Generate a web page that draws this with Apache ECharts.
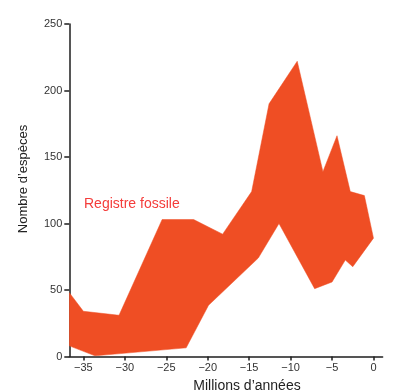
<!DOCTYPE html>
<html>
<head>
<meta charset="utf-8">
<script src="https://cdn.jsdelivr.net/npm/echarts@6/dist/echarts.min.js"></script>
<style>
  html, body { margin: 0; padding: 0; background: #fff; }
  #chart { width: 395px; height: 392px; }
</style>
</head>
<body>
<div id="chart"></div>
<script>
// Upper edge of the fossil-record band (millions of years, species count)
const upperYears = [-36.7, -35.0, -30.7, -25.5, -21.7, -18.2, -14.7, -12.6, -9.2, -6.1, -4.4, -2.8, -1.1, 0];
const upperCounts = [48, 34, 31, 103, 103, 92, 124, 190, 222, 139, 166, 124, 121, 89];
// Lower edge of the band
const lowerYears = [-36.7, -33.6, -22.6, -19.9, -13.9, -11.4, -7.1, -5.0, -3.4, -2.5, 0];
const lowerCounts = [8, 0.5, 6.5, 38.5, 74, 100, 51, 56, 72.5, 67.5, 89];
// Axis ticks
const xTicks = [-35, -30, -25, -20, -15, -10, -5, 0];
const yTicks = [0, 50, 100, 150, 200, 250];

// Closed outline: along the upper edge left-to-right, back along the lower edge
const outline = [];
upperYears.forEach((x, i) => outline.push([x, upperCounts[i]]));
for (let i = lowerYears.length - 1; i >= 0; i--) outline.push([lowerYears[i], lowerCounts[i]]);

const chart = echarts.init(document.getElementById('chart'), null, { renderer: 'canvas' });
const tickFont = { fontFamily: 'Liberation Sans, Arial, sans-serif', fontSize: 11, color: '#333' };
const axisStroke = { color: '#1e1e1e', width: 1.5 };

chart.setOption({
  animation: false,
  backgroundColor: '#fff',
  grid: { left: 69.3, right: 12.4, top: 24, bottom: 35.5, containLabel: false },
  xAxis: {
    type: 'value',
    min: -36.7,
    max: 1.1,
    splitLine: { show: false },
    axisLine: { show: true, onZero: false, lineStyle: axisStroke },
    axisTick: { show: true, length: 4, lineStyle: axisStroke, customValues: xTicks },
    axisLabel: Object.assign({
      margin: 6,
      customValues: xTicks,
      formatter: v => (v < 0 ? '\u2212' + Math.abs(v) : String(v))
    }, tickFont)
  },
  yAxis: {
    type: 'value',
    min: 0,
    max: 250,
    interval: 50,
    splitLine: { show: false },
    axisLine: { show: true, onZero: false, lineStyle: axisStroke },
    axisTick: { show: true, length: 5, lineStyle: axisStroke, customValues: yTicks },
    axisLabel: Object.assign({ margin: 7, customValues: yTicks }, tickFont)
  },
  series: [{
    type: 'custom',
    coordinateSystem: 'cartesian2d',
    encode: { x: 0, y: 1 },
    data: outline,
    clip: true,
    renderItem: (params, api) => {
      if (params.dataIndex !== 0) return null;
      const pts = outline.map(p => api.coord(p));
      return {
        type: 'polygon',
        shape: { points: pts },
        style: { fill: '#ef4e24', stroke: '#ef4e24', lineWidth: 0.5 }
      };
    }
  }],
  graphic: [
    {
      type: 'text',
      left: 84, top: 197,
      style: {
        text: 'Registre fossile',
        font: '14px "Liberation Sans", Arial, sans-serif',
        fill: '#f43c3a'
      }
    },
    {
      type: 'text',
      x: 247, y: 386,
      style: {
        text: 'Millions d\u2019années',
        font: '14px "Liberation Sans", Arial, sans-serif',
        fill: '#222',
        align: 'center',
        verticalAlign: 'middle'
      }
    },
    {
      type: 'text',
      x: 23, y: 179,
      rotation: Math.PI / 2,
      style: {
        text: 'Nombre d\u2019espèces',
        font: '13px "Liberation Sans", Arial, sans-serif',
        fill: '#222',
        align: 'center',
        verticalAlign: 'middle'
      }
    }
  ]
});
</script>
</body>
</html>
